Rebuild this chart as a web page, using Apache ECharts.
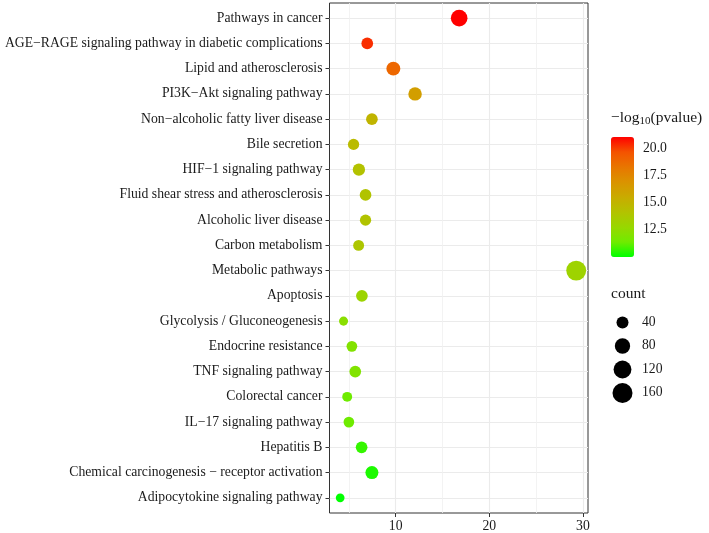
<!DOCTYPE html>
<html>
<head>
<meta charset="utf-8">
<script src="https://cdn.jsdelivr.net/npm/echarts@6/dist/echarts.min.js"></script>
<style>
  html, body { margin: 0; padding: 0; background: #fff; }
  #chart { width: 709px; height: 533px; }
</style>
</head>
<body>
<div id="chart"></div>
<script>
// pathways, top to bottom
const pathways = [
  'Pathways in cancer',
  'AGE\u2212RAGE signaling pathway in diabetic complications',
  'Lipid and atherosclerosis',
  'PI3K\u2212Akt signaling pathway',
  'Non\u2212alcoholic fatty liver disease',
  'Bile secretion',
  'HIF\u22121 signaling pathway',
  'Fluid shear stress and atherosclerosis',
  'Alcoholic liver disease',
  'Carbon metabolism',
  'Metabolic pathways',
  'Apoptosis',
  'Glycolysis / Gluconeogenesis',
  'Endocrine resistance',
  'TNF signaling pathway',
  'Colorectal cancer',
  'IL\u221217 signaling pathway',
  'Hepatitis B',
  'Chemical carcinogenesis \u2212 receptor activation',
  'Adipocytokine signaling pathway'
];
const xValues = [16.78, 6.96, 9.75, 12.07, 7.46, 5.5, 6.07, 6.78, 6.78, 6.04,
                 29.28, 6.39, 4.43, 5.32, 5.68, 4.82, 5.0, 6.36, 7.46, 4.07];
const counts = [100, 37, 62, 56, 37, 33, 43, 37, 33, 30,
                158, 37, 16, 28, 37, 22, 28, 37, 51, 14];
const logP = [21.07, 20.3, 18.9, 16.3, 15.0, 14.6, 14.2, 14.1, 14.1, 13.9,
              13.1, 13.0, 12.3, 12.05, 12.0, 11.4, 11.4, 10.7, 10.4, 10.05];

const xTicks = [10, 20, 30];
const xMinorLines = [5, 15, 25];
const colorTicks = [20.0, 17.5, 15.0, 12.5];
const countBreaks = [40, 80, 120, 160];

// green -> red, interpolated like ggplot (Lab)
const ramp = ['#00ff00', '#70eb00', '#98d700', '#b3c200', '#c9ab00',
              '#da9300', '#e87600', '#f45300', '#ff0000'];

const FONT = '"Liberation Serif", "DejaVu Serif", serif';
const TXT = '#1a1a1a';
const FS = 13.7;

function sizeOf(c) {
  return 4 + 1.265 * Math.sqrt(c);
}

const pMin = Math.min(...logP);
const pMax = Math.max(...logP);

// colour bar geometry
const barLeft = 611, barTop = 137, barW = 23, barH = 120;
const rowIdx = pathways.map((p, i) => i + 1);

let graphics = [];
colorTicks.forEach(v => {
  let y = barTop + (pMax - v) / (pMax - pMin) * barH;
  graphics.push({
    type: 'text', left: 643, top: y - 7.5,
    style: { text: v.toFixed(1), font: FS + 'px ' + FONT, fill: TXT }
  });
  graphics.push({ type: 'line', shape: { x1: barLeft, y1: y, x2: barLeft + 4, y2: y },
    style: { stroke: '#fff', lineWidth: 1 } });
  graphics.push({ type: 'line', shape: { x1: barLeft + barW - 4, y1: y, x2: barLeft + barW, y2: y },
    style: { stroke: '#fff', lineWidth: 1 } });
});
graphics.push({
  type: 'text', left: 611, top: 286,
  style: { text: 'count', font: '15.5px ' + FONT, fill: TXT }
});
countBreaks.forEach((c, i) => {
  let cy = 322.5 + i * 23.5;
  let r = sizeOf(c) / 2;
  graphics.push({ type: 'circle', shape: { cx: 622.5, cy: cy, r: r }, style: { fill: '#000' } });
  graphics.push({
    type: 'text', left: 642, top: cy - 7.5,
    style: { text: String(c), font: FS + 'px ' + FONT, fill: TXT }
  });
});

let chart = echarts.init(document.getElementById('chart'));

let option = {
  animation: false,
  backgroundColor: '#fff',
  title: {
    text: '\u2212log{s|10}(pvalue)',
    left: 611, top: 109, padding: 0,
    textStyle: {
      fontFamily: FONT, fontSize: 15.5, fontWeight: 'normal', color: TXT,
      rich: { s: { fontFamily: FONT, fontSize: 11, color: TXT, padding: [7, 0, 0, 0] } }
    }
  },
  grid: {
    left: 329.5, top: 3, width: 258.5, height: 510,
    outerBoundsMode: 'none', containLabel: false,
    show: true, borderColor: '#333', borderWidth: 1, backgroundColor: 'transparent'
  },
  xAxis: [{
    type: 'value', min: 2.93, max: 30.54,
    axisLine: { show: false },
    axisTick: { show: true, length: 4, lineStyle: { color: '#333' }, customValues: xTicks },
    axisLabel: { customValues: xTicks, margin: 6, fontFamily: FONT, fontSize: FS, color: TXT },
    splitLine: { show: true, lineStyle: { color: '#ebebeb', width: 1.1 } }
  }, {
    type: 'value', min: 2.93, max: 30.54, position: 'bottom',
    axisLine: { show: false },
    axisTick: { show: false, customValues: xMinorLines },
    axisLabel: { show: false, customValues: xMinorLines },
    splitLine: { show: true, lineStyle: { color: '#f0f0f0', width: 0.8 } }
  }],
  yAxis: {
    type: 'value', min: 0.4, max: 20.6, inverse: true,
    axisLine: { show: false },
    axisTick: { show: true, length: 4, lineStyle: { color: '#333' }, customValues: rowIdx },
    axisLabel: {
      customValues: rowIdx, margin: 7, fontFamily: FONT, fontSize: FS, color: TXT,
      formatter: v => pathways[Math.round(v) - 1] || ''
    },
    splitLine: { show: true, lineStyle: { color: '#ebebeb', width: 1.1 } }
  },
  visualMap: {
    type: 'continuous', seriesIndex: 0, dimension: 3,
    min: pMin, max: pMax,
    left: barLeft, top: barTop, itemWidth: barW, itemHeight: barH,
    padding: 0, calculable: false, hoverLink: false, text: null, showLabel: false,
    inRange: { color: ramp }
  },
  series: [{
    type: 'scatter',
    symbol: 'circle',
    data: xValues.map((x, i) => [x, i + 1, counts[i], logP[i]]),
    symbolSize: v => sizeOf(v[2]),
    itemStyle: { opacity: 1 }
  }],
  graphic: graphics
};

chart.setOption(option);
</script>
</body>
</html>
